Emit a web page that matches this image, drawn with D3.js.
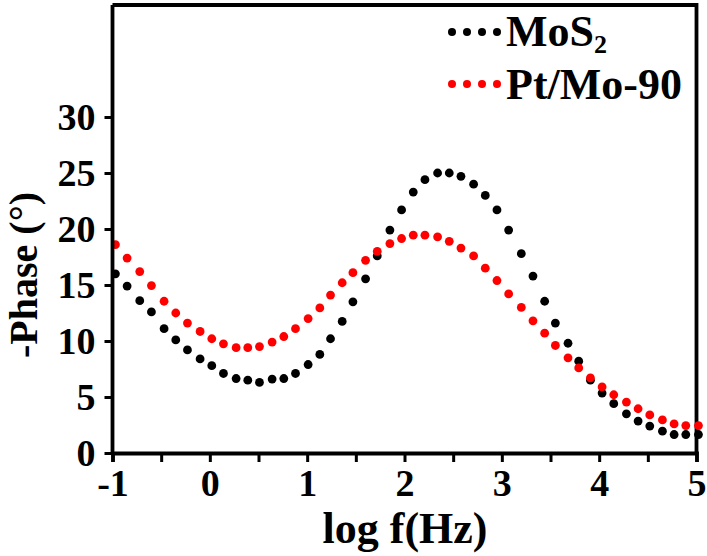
<!DOCTYPE html>
<html>
<head>
<meta charset="utf-8">
<script src="https://cdn.jsdelivr.net/npm/d3@7/dist/d3.min.js"></script>
<style>
  html, body { margin: 0; padding: 0; background: #fff; }
  svg { display: block; }
  text { font-family: "Liberation Serif", "Times New Roman", serif; font-weight: bold; fill: #000; }
</style>
</head>
<body>
<svg id="chart" width="707" height="556"></svg>
<script>
// log f (Hz)
const logF = [-0.97, -0.85, -0.72, -0.60, -0.47, -0.35, -0.23, -0.10, 0.02, 0.14,
              0.27, 0.39, 0.51, 0.64, 0.76, 0.88, 1.01, 1.13, 1.24, 1.36,
              1.47, 1.60, 1.72, 1.85, 1.97, 2.09, 2.21, 2.34, 2.46, 2.58,
              2.71, 2.83, 2.95, 3.07, 3.20, 3.32, 3.44, 3.55, 3.68, 3.79,
              3.91, 4.03, 4.15, 4.28, 4.40, 4.52, 4.65, 4.77, 4.89, 5.02];
// -Phase (deg)
const mos2 = [16.0, 14.9, 13.6, 12.6, 11.1, 10.1, 9.2, 8.4, 7.8, 7.1,
              6.65, 6.5, 6.3, 6.6, 6.65, 7.1, 7.9, 8.8, 10.2, 11.75,
              13.5, 15.55, 17.6, 19.9, 21.7, 23.3, 24.4, 25.0, 25.0, 24.7,
              24.0, 23.0, 21.7, 19.9, 17.8, 15.8, 13.55, 11.6, 9.8, 8.2,
              6.5, 5.35, 4.4, 3.5, 2.85, 2.4, 1.95, 1.65, 1.65, 1.65];
const ptmo90 = [18.6, 17.4, 16.2, 14.95, 13.55, 12.5, 11.6, 10.85, 10.2, 9.75,
                9.4, 9.4, 9.5, 9.9, 10.4, 11.1, 12.0, 12.95, 14.1, 15.2,
                16.1, 17.2, 18.0, 18.7, 19.15, 19.45, 19.45, 19.3, 18.9, 18.3,
                17.6, 16.5, 15.4, 14.2, 13.0, 11.8, 10.7, 9.6, 8.5, 7.6,
                6.7, 5.9, 5.2, 4.55, 3.95, 3.4, 2.95, 2.6, 2.45, 2.45];
const seriesNames = ["MoS", "Pt/Mo-90"];
const seriesColors = ["#000000", "#ff0000"];
const xTickValues = [-1, 0, 1, 2, 3, 4, 5];
const xMinorTicks = [-0.5, 0.5, 1.5, 2.5, 3.5, 4.5];
const yTickValues = [0, 5, 10, 15, 20, 25, 30];
const xTitle = "log f(Hz)";
const yTitle = "-Phase (°)";

const svg = d3.select("#chart");
const x = d3.scaleLinear().domain([-1, 5]).range([112.5, 696.5]);
const y = d3.scaleLinear().domain([0, 40]).range([453, 5]);

// frame (top & right)
svg.append("path")
  .attr("d", `M${x(-1)},${y(40)}H${x(5)}V${y(0)}`)
  .attr("fill", "none").attr("stroke", "#000").attr("stroke-width", 3.8);

// data
const seriesData = [mos2, ptmo90];
seriesData.forEach((vals, si) => {
  svg.append("g").selectAll("circle")
    .data(vals.map((v, i) => [logF[i], v]))
    .join("circle")
    .attr("cx", d => x(d[0]))
    .attr("cy", d => y(d[1]))
    .attr("r", 4.4)
    .attr("fill", seriesColors[si]);
});

// x axis
const xAxis = svg.append("g").attr("transform", `translate(0,${y(0)})`)
  .call(d3.axisBottom(x).tickValues(xTickValues).tickFormat(d => String(d)).tickSize(9).tickPadding(7));
svg.append("g").attr("transform", `translate(0,${y(0)})`)
  .call(d3.axisBottom(x).tickValues(xMinorTicks).tickFormat("").tickSize(9))
  .select(".domain").remove();
// y axis
const yAxis = svg.append("g").attr("transform", `translate(${x(-1)},0)`)
  .call(d3.axisLeft(y).tickValues(yTickValues).tickSize(8).tickPadding(9));
yAxis.select(".domain").attr("d", `M0,${y(0)}V${y(40)}`);

svg.selectAll(".domain").attr("stroke-width", 3.8).attr("stroke", "#000");
svg.selectAll(".tick line").attr("stroke-width", 3).attr("stroke", "#000");
svg.selectAll(".tick text").style("font-family", "'Liberation Serif', serif")
  .style("font-weight", "bold").style("font-size", "38px").attr("fill", "#000");
yAxis.selectAll(".tick text").attr("dy", "0.34em");

// titles
svg.append("text").attr("x", 405).attr("y", 543).attr("text-anchor", "middle")
  .style("font-size", "44px").text(xTitle);
svg.append("text").attr("transform", "translate(37,275) rotate(-90)").attr("text-anchor", "middle")
  .style("font-size", "40px").text(yTitle);

// legend
const legendY = [32, 84];
const legendBase = [46, 99];
seriesNames.forEach((name, si) => {
  const lg = svg.append("g");
  lg.selectAll("circle").data([0, 1, 2, 3]).join("circle")
    .attr("cx", d => 452 + d * 15).attr("cy", legendY[si]).attr("r", 4)
    .attr("fill", seriesColors[si]);
  const t = lg.append("text").attr("x", 506).attr("y", legendBase[si]).style("font-size", "44px");
  t.append("tspan").text(name);
  if (si === 0) t.append("tspan").attr("dy", 7).style("font-size", "26px").text("2");
});
</script>
</body>
</html>
